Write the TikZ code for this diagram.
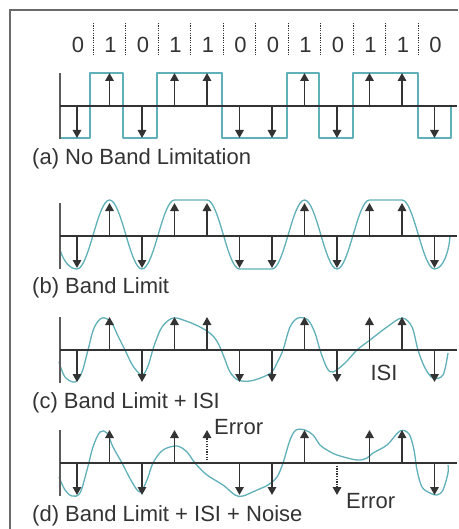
\documentclass[tikz,border=0pt]{standalone}
\usepackage{fontspec}
\setmainfont{Liberation Sans}
\usetikzlibrary{arrows.meta}
\definecolor{wave}{HTML}{5FB0B8}
\definecolor{ink}{HTML}{333333}
\definecolor{framec}{HTML}{6A6A6A}
\begin{document}
\begin{tikzpicture}[x=1pt,y=-1pt,
  axisline/.style={draw=ink, line width=1.4pt},
  yaxisline/.style={draw=ink!80, line width=1.2pt},
  bitarrow/.style={draw=ink, line width=1.6pt, -{Triangle[width=8.5pt,length=8pt]}},
  errarrow/.style={bitarrow, dash pattern=on 1.3pt off 1.3pt},
  wavecurve/.style={draw=wave, line width=1.3pt, line join=round},
  sepline/.style={draw=ink, line width=1.3pt, dash pattern=on 1.2pt off 1.2pt},
  lbl/.style={font=\fontsize{22}{26}\selectfont, text=ink, inner sep=0pt},
  caplbl/.style={lbl, anchor=base west},
  framel/.style={draw=framec, line width=2pt},
]
\useasboundingbox (0,0) rectangle (458,529);
% frame
\coordinate (f-bl) at (10,529);
\coordinate (f-tl) at (10,10);
\coordinate (f-tr) at (458,10);
\draw[framel] (f-bl) -- (f-tl) -- (f-tr);

% bit labels and separators
\foreach \b [count=\i from 0] in {0,1,0,1,1,0,0,1,0,1,1,0} {
  \pgfmathsetmacro\xx{78+32.5*\i}
  \node[lbl, anchor=base] (bit-\i) at (\xx,53) {\b};
}
\foreach \k in {0,...,10} {
  \pgfmathsetmacro\xx{93.25+32.5*\k}
  \coordinate (sep-t-\k) at (\xx,23);
  \coordinate (sep-b-\k) at (\xx,55);
  \draw[sepline] (sep-t-\k) -- (sep-b-\k);
}

% (a) square wave
\draw[wavecurve] (60,138) -- (90,138) -- (90,73) -- (123,73) -- (123,138) -- (157,138) -- (157,73) -- (222,73) -- (222,138) -- (287,138) -- (287,73) -- (319,73) -- (319,138) -- (353,138) -- (353,73) -- (418,73) -- (418,138) -- (451,138) -- (451,106);

% (b) band-limited: raised-cosine transitions between bit centres
\draw[wavecurve] (60,250) .. controls (64,262) and (70,269) .. (77,269)
  \foreach \ya/\yb [count=\i from 0] in {269/200,200/269,269/200,200/200,200/269,269/269,269/200,200/269,269/200,200/200,200/269} {
    .. controls ({77+32.5*\i+12},\ya) and ({77+32.5*(\i+1)-12},\yb) .. ({77+32.5*(\i+1)},\yb)
  }
  .. controls (443,269) and (449,252) .. (450,236);

% (c) band limit + ISI
\draw[wavecurve] plot[smooth, tension=0.55] coordinates {
 (59,362) (65,377) (75,382) (82,372) (88,350) (94,328) (102,318) (111,322) (118,336) (125,350)
 (133,366) (142,375) (148,366) (154,346) (162,327) (173,318) (186,321) (198,326) (207,331) (214,337)
 (219,345) (224,357) (230,372) (238,380) (250,381) (263,377) (272,372) (277,363) (283,350) (290,327)
 (298,318) (308,320) (315,333) (320,350) (327,368) (333,372) (345,363) (357,350) (370,340) (387,327)
 (402,318) (412,327) (418,350) (425,368) (433,378) (443,375) (448,353)};

% (d) band limit + ISI + noise
\draw[wavecurve] plot[smooth, tension=0.55] coordinates {
 (59,477) (65,490) (72,496) (80,493) (87,470) (93,447) (100,432) (107,433) (113,447) (122,463)
 (132,482) (140,492) (147,480) (153,463) (163,450) (177,446) (187,452) (195,463) (207,475) (223,485)
 (235,495) (243,496) (257,490) (268,485) (277,477) (283,463) (290,440) (296,430) (305,430) (313,435)
 (320,445) (327,450) (337,455) (357,460) (367,458) (373,453) (387,445) (400,431) (409,434) (414,450)
 (417,470) (422,487) (430,493) (437,495) (443,490) (448,473) (448,465)};

% axes and bit coordinates
\foreach \p/\ay in {a/106, b/236, c/350, d/463} {
  \coordinate (\p-y0) at (60,\ay-33);
  \coordinate (\p-y1) at (60,\ay+33);
  \coordinate (\p-x0) at (60,\ay);
  \coordinate (\p-x1) at (457,\ay);
  \draw[yaxisline] (\p-y0) -- (\p-y1);
  \draw[axisline] (\p-x0) -- (\p-x1);
  \foreach \b [count=\i from 0] in {0,1,0,1,1,0,0,1,0,1,1,0} {
    \pgfmathsetmacro\xx{77+32.5*\i}
    \pgfmathsetmacro\yy{\b==1 ? \ay-33 : \ay+32}
    \coordinate (\p-base-\i) at (\xx,\ay);
    \coordinate (\p-tip-\i) at (\xx,\yy);
  }
}
\foreach \p in {a,b,c} {
  \foreach \i in {0,...,11} {
    \draw[bitarrow] (\p-base-\i) -- (\p-tip-\i);
  }
}
\foreach \i in {0,1,2,3,5,6,7,9,10,11} {
  \draw[bitarrow] (d-base-\i) -- (d-tip-\i);
}
\draw[errarrow] (d-base-4) -- (d-tip-4);
\draw[errarrow] (d-base-8) -- (d-tip-8);

% labels
\node[lbl, anchor=west] (err-up) at (214,427) {Error};
\node[lbl, anchor=west] (err-dn) at (346,501) {Error};
\node[lbl] (isi) at (384,373) {ISI};

\node[caplbl] (cap-a) at (32,165) {(a) No Band Limitation};
\node[caplbl] (cap-b) at (32,293) {(b) Band Limit};
\node[caplbl] (cap-c) at (32,408) {(c) Band Limit + ISI};
\node[caplbl] (cap-d) at (32,521) {(d) Band Limit + ISI + Noise};
\end{tikzpicture}
\end{document}
